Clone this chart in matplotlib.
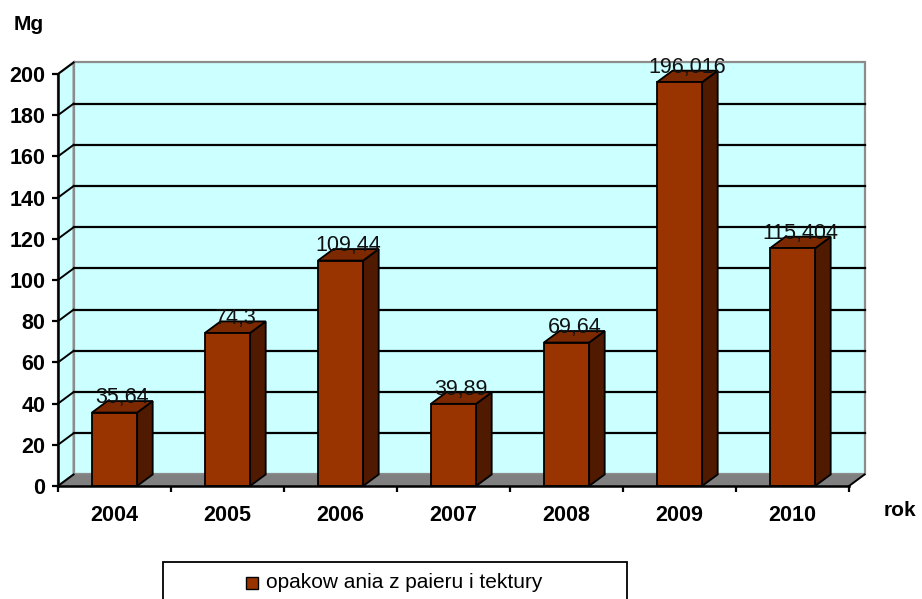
import matplotlib
matplotlib.use("Agg")
import matplotlib.pyplot as plt
from matplotlib.patches import Polygon, Rectangle
import numpy as np

years = ["2004", "2005", "2006", "2007", "2008", "2009", "2010"]
values = [35.64, 74.3, 109.44, 39.89, 69.64, 196.016, 115.404]
value_labels = ["35,64", "74,3", "109,44", "39,89", "69,64", "196,016", "115,404"]
series_name = "opakow ania z paieru i tektury"
yticks = list(range(0, 201, 20))

W, H = 922, 599
fig = plt.figure(figsize=(W / 100, H / 100), dpi=100)
plt.rcParams['font.family'] = ['Liberation Sans', 'DejaVu Sans']

ax = fig.add_axes([58 / W, 113 / H, 791 / W, 412 / H])
ax.set_xlim(-0.5, 6.5)
ax.set_ylim(0, 200)
ax.patch.set_visible(False)

# depth offsets (data units)
DX = 0.138
DY = 5.6
x0, x1 = -0.5, 6.5
ymax = 200

wall_c = "#ccffff"
floor_c = "#808080"
front_c = "#993300"
side_c = "#4f1a00"
top_c = "#7d2900"

# back wall
ax.add_patch(Polygon([(x0 + DX, DY), (x1 + DX, DY), (x1 + DX, ymax + DY), (x0 + DX, ymax + DY)],
                     closed=True, facecolor=wall_c, edgecolor="#8c8c8c", lw=1.6, zorder=1, clip_on=False))
# left wall
ax.add_patch(Polygon([(x0, 0), (x0 + DX, DY), (x0 + DX, ymax + DY), (x0, ymax)],
                     closed=True, facecolor=wall_c, edgecolor="#8c8c8c", lw=1.6, zorder=1, clip_on=False))
# gridlines
for v in yticks[1:-1]:
    ax.plot([x0 + DX, x1 + DX], [v + DY, v + DY], color="black", lw=1.6, zorder=2, clip_on=False)
for v in yticks[1:]:
    ax.plot([x0, x0 + DX], [v, v + DY], color="black", lw=1.4, zorder=2, clip_on=False)
# floor
ax.add_patch(Polygon([(x0, 0), (x1, 0), (x1 + DX, DY), (x0 + DX, DY)],
                     closed=True, facecolor=floor_c, edgecolor="none", zorder=2, clip_on=False))
ax.plot([x0, x0 + DX], [0, DY], color="black", lw=1.4, zorder=2, clip_on=False)
ax.plot([x1, x1 + DX], [0, DY], color="black", lw=1.4, zorder=2, clip_on=False)

# bars
bw = 0.4
for i, v in enumerate(values):
    l, r = i - bw / 2, i + bw / 2
    ax.add_patch(Polygon([(r, 0), (r + DX, DY), (r + DX, v + DY), (r, v)], closed=True,
                         facecolor=side_c, edgecolor="black", lw=1.3, zorder=3, clip_on=False))
    ax.add_patch(Polygon([(l, v), (r, v), (r + DX, v + DY), (l + DX, v + DY)], closed=True,
                         facecolor=top_c, edgecolor="black", lw=1.3, zorder=3, clip_on=False))
    ax.add_patch(Rectangle((l, 0), bw, v, facecolor=front_c, edgecolor="black", lw=1.3,
                           zorder=3, clip_on=False))
    ax.text(i + DX / 2, v + DY + 1.5, value_labels[i], ha="center", va="center",
            fontsize=15.5, color="#111111", zorder=5, clip_on=False)

# axes
for s in ["top", "right"]:
    ax.spines[s].set_visible(False)
for s in ["left", "bottom"]:
    ax.spines[s].set_color("black")
    ax.spines[s].set_linewidth(1.8)
    ax.spines[s].set_zorder(6)

ax.set_yticks(yticks)
ax.set_yticklabels([str(t) for t in yticks], fontsize=15.5, fontweight="bold")
ax.tick_params(axis="y", direction="out", length=4, width=1.6, pad=5)

ax.set_xticks(np.arange(-0.5, 7, 1.0))
ax.set_xticklabels([])
ax.tick_params(axis="x", which="major", direction="out", length=4.5, width=1.6)
ax.set_xticks(np.arange(len(years)), minor=True)
ax.set_xticklabels(years, minor=True, fontsize=15.5, fontweight="bold")
ax.tick_params(axis="x", which="minor", length=0, pad=14)

fig.text(29 / W, 1 - 24 / H, "Mg", fontsize=15, fontweight="bold", ha="center", va="center")
fig.text(900 / W, 1 - 510 / H, "rok", fontsize=15, fontweight="bold", ha="center", va="center")

# legend
fig.patches.append(Rectangle((163 / W, 1 - 620 / H), (627 - 163) / W, 58 / H,
                             transform=fig.transFigure, facecolor="white",
                             edgecolor="black", lw=1.3, figure=fig))
fig.patches.append(Rectangle((246 / W, 1 - 589 / H), 12 / W, 12 / H,
                             transform=fig.transFigure, facecolor=front_c,
                             edgecolor="black", lw=1.0, figure=fig))
fig.text(266 / W, 1 - 583 / H, series_name, fontsize=15, ha="left", va="center")

fig.savefig("out.png", dpi=100)
